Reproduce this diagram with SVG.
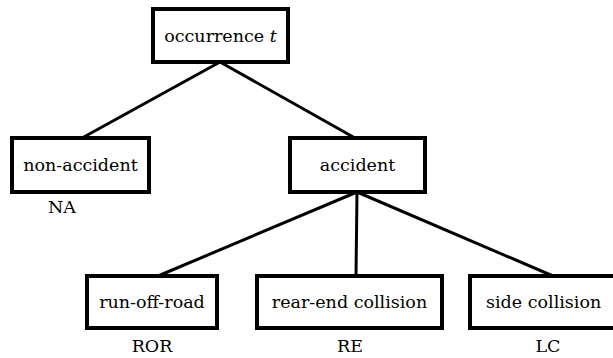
<svg xmlns="http://www.w3.org/2000/svg" width="613" height="358" viewBox="0 0 613 358">
<style>
.box{fill:#fff;stroke:#000;stroke-width:4}
.edge{stroke:#000;stroke-width:3;fill:none}
</style>
<rect width="613" height="358" fill="#fff"/>
<g id="connectors">
<line class="edge" x1="220" y1="62" x2="82" y2="138"/>
<line class="edge" x1="220" y1="62" x2="355" y2="138"/>
<line class="edge" x1="357" y1="192" x2="158" y2="276"/>
<line class="edge" x1="357" y1="192" x2="356" y2="276"/>
<line class="edge" x1="357" y1="192" x2="553" y2="276"/>
</g>
<g font-family="DejaVu Serif, Liberation Serif, serif" font-size="17.5" fill="#000" text-anchor="middle">
<g id="occurrence">
<rect class="box" x="153" y="9" width="135" height="53"/>
<text x="220.5" y="42">occurrence <tspan font-style="italic">t</tspan></text>
</g>
<g id="non-accident">
<rect class="box" x="12" y="138" width="137" height="54"/>
<text x="80.5" y="171">non-accident</text>
<text x="62" y="213">NA</text>
</g>
<g id="accident">
<rect class="box" x="290" y="138" width="135" height="54"/>
<text x="357.5" y="171">accident</text>
</g>
<g id="ror">
<rect class="box" x="87" y="276" width="130" height="52"/>
<text x="152" y="308">run-off-road</text>
<text x="152" y="352">ROR</text>
</g>
<g id="re">
<rect class="box" x="257" y="276" width="185" height="52"/>
<text x="349.5" y="308">rear-end collision</text>
<text x="350" y="352">RE</text>
</g>
<g id="lc">
<rect class="box" x="470" y="276" width="148" height="52"/>
<text x="486" y="308" text-anchor="start">side collision</text>
<text x="548" y="352">LC</text>
</g>
</g>
</svg>
